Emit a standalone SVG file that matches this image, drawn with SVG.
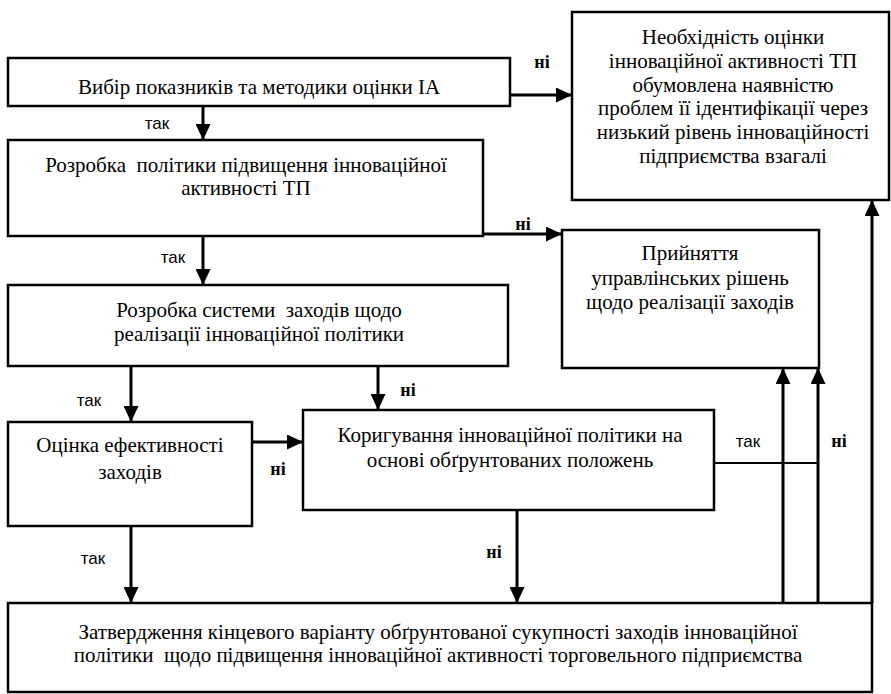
<svg xmlns="http://www.w3.org/2000/svg" width="891" height="694" viewBox="0 0 891 694">
<style>
.box{fill:#fff;stroke:#000;stroke-width:2.5}
.t{font-family:"Liberation Serif","Times New Roman",serif;font-size:21px;fill:#000;text-anchor:middle;white-space:pre}
.yes{font-family:"Liberation Sans",Arial,sans-serif;font-size:17px;fill:#000;text-anchor:middle}
.no{font-family:"Liberation Serif","Times New Roman",serif;font-size:18px;font-weight:bold;fill:#000;text-anchor:middle}
.c{stroke:#000;stroke-width:3;fill:none}
.thin{stroke:#000;stroke-width:2;fill:none}
</style>
<defs>
<marker id="ah" markerUnits="userSpaceOnUse" markerWidth="16" markerHeight="15" viewBox="0 0 16 15" refX="16" refY="7.5" orient="auto">
<path d="M0,0 L16,7.5 L0,15 z" fill="#000"/>
</marker>
</defs>
<rect width="891" height="694" fill="#fff"/>

<g id="n1">
<rect class="box" x="8" y="58" width="502" height="48"/>
<text class="t" x="259" y="94">Вибір показників та методики оцінки ІА</text>
</g>
<g id="n2">
<rect class="box" x="8" y="140" width="475" height="96"/>
<text class="t" x="246" y="172">Розробка  політики підвищення інноваційної</text>
<text class="t" x="246" y="195">активності ТП</text>
</g>
<g id="n3">
<rect class="box" x="8" y="285" width="500" height="81"/>
<text class="t" x="259" y="317">Розробка системи  заходів щодо</text>
<text class="t" x="259" y="341">реалізації інноваційної політики</text>
</g>
<g id="n4">
<rect class="box" x="572" y="12" width="317" height="188"/>
<text class="t" x="733" y="44">Необхідність оцінки</text>
<text class="t" x="733" y="68">інноваційної активності ТП</text>
<text class="t" x="733" y="92">обумовлена наявністю</text>
<text class="t" x="733" y="115">проблем її ідентифікації через</text>
<text class="t" x="733" y="139">низький рівень інноваційності</text>
<text class="t" x="733" y="163">підприємства взагалі</text>
</g>
<g id="n5">
<rect class="box" x="562" y="230" width="257" height="138"/>
<text class="t" x="690" y="260">Прийняття</text>
<text class="t" x="690" y="285">управлінських рішень</text>
<text class="t" x="690" y="309">щодо реалізації заходів</text>
</g>
<g id="n6">
<rect class="box" x="8" y="422" width="244" height="104"/>
<text class="t" x="130" y="452">Оцінка ефективності</text>
<text class="t" x="130" y="479">заходів</text>
</g>
<g id="n7">
<rect class="box" x="303" y="410" width="411" height="100"/>
<text class="t" x="510" y="442">Коригування інноваційної політики на</text>
<text class="t" x="510" y="467">основі обґрунтованих положень</text>
</g>
<g id="n8">
<rect class="box" x="8" y="603" width="864" height="89"/>
<text class="t" x="438" y="639">Затвердження кінцевого варіанту обґрунтованої сукупності заходів інноваційної</text>
<text class="t" x="438" y="662">політики  щодо підвищення інноваційної активності торговельного підприємства</text>
</g>

<g id="connectors">
<line class="c" x1="203" y1="106" x2="203" y2="140" marker-end="url(#ah)"/>
<line class="c" x1="203" y1="236" x2="203" y2="285" marker-end="url(#ah)"/>
<line class="c" x1="510" y1="95" x2="572" y2="95" marker-end="url(#ah)"/>
<line class="c" x1="483" y1="234" x2="562" y2="234" marker-end="url(#ah)"/>
<line class="c" x1="131" y1="366" x2="131" y2="422" marker-end="url(#ah)"/>
<line class="c" x1="378" y1="366" x2="378" y2="410" marker-end="url(#ah)"/>
<line class="c" x1="252" y1="442" x2="303" y2="442" marker-end="url(#ah)"/>
<line class="c" x1="131" y1="526" x2="131" y2="603" marker-end="url(#ah)"/>
<line class="c" x1="517" y1="510" x2="517" y2="603" marker-end="url(#ah)"/>
<line class="thin" x1="714" y1="463" x2="818" y2="463"/>
<line class="c" x1="783" y1="603" x2="783" y2="368" marker-end="url(#ah)"/>
<line class="c" x1="818" y1="603" x2="818" y2="368" marker-end="url(#ah)"/>
<line class="c" x1="872" y1="603" x2="872" y2="200" marker-end="url(#ah)"/>
<text class="yes" x="157" y="129">так</text>
<text class="yes" x="173" y="263">так</text>
<text class="no" x="542" y="68">ні</text>
<text class="no" x="523" y="230">ні</text>
<text class="yes" x="89" y="406">так</text>
<text class="no" x="408" y="396">ні</text>
<text class="no" x="278" y="475">ні</text>
<text class="yes" x="93" y="564">так</text>
<text class="no" x="494" y="558">ні</text>
<text class="yes" x="748" y="447">так</text>
<text class="no" x="839" y="447">ні</text>
</g>
</svg>
